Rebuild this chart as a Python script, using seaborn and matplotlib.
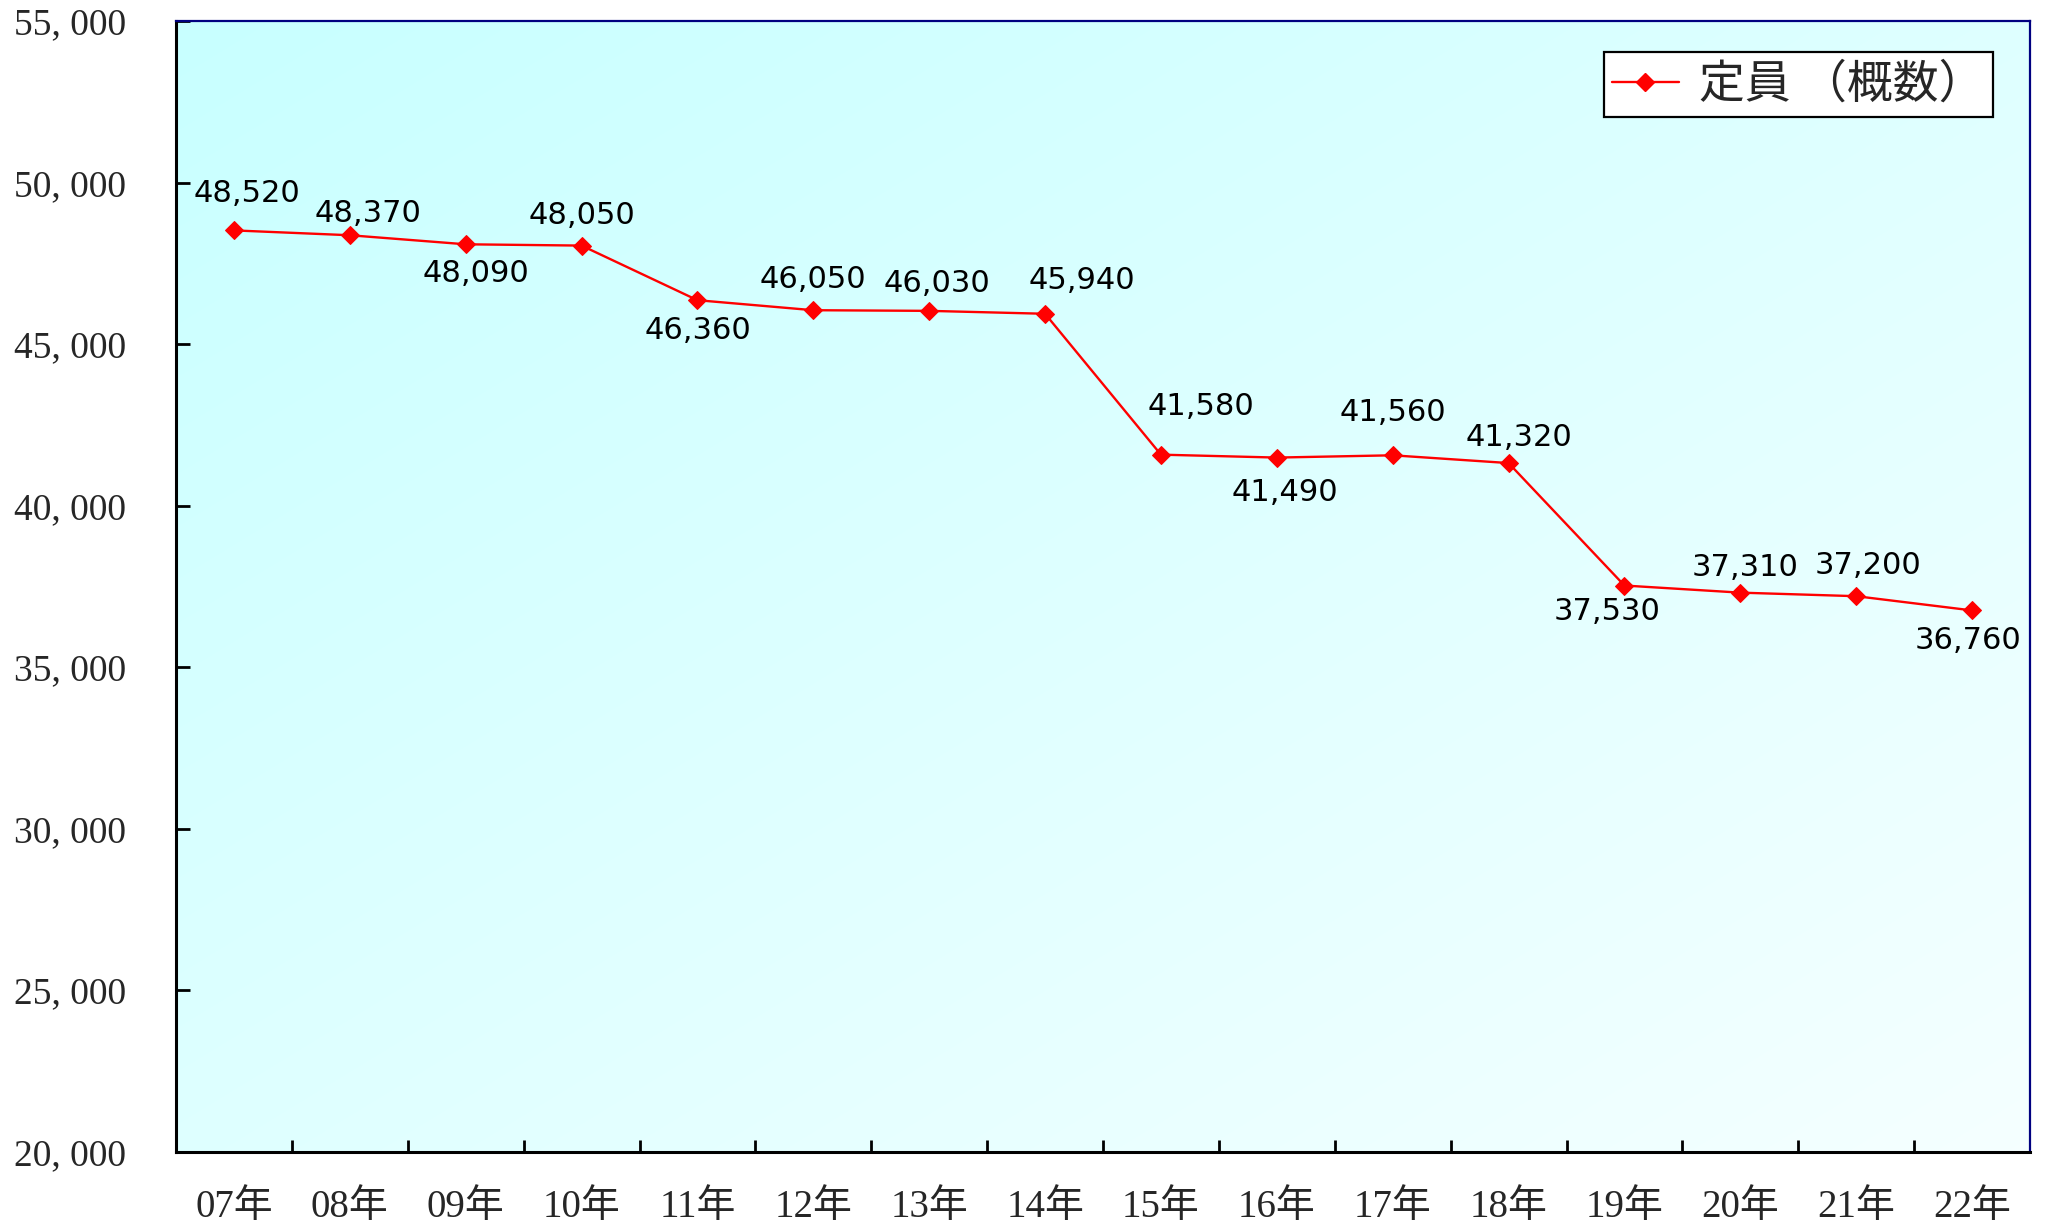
import numpy as np
import pandas as pd
import matplotlib
matplotlib.use("Agg")
import matplotlib.pyplot as plt
import seaborn as sns
from matplotlib.colors import LinearSegmentedColormap
from matplotlib.lines import Line2D

# Fiscal years and staff capacity (approximate)
years = ["07年", "08年", "09年", "10年", "11年", "12年", "13年", "14年",
         "15年", "16年", "17年", "18年", "19年", "20年", "21年", "22年"]
capacity = [48520, 48370, 48090, 48050, 46360, 46050, 46030, 45940,
            41580, 41490, 41560, 41320, 37530, 37310, 37200, 36760]
series_name = "定員 （概数）"
y_ticks = [20000, 25000, 30000, 35000, 40000, 45000, 50000, 55000]

# Label offsets (pixels) relative to each marker
label_dx = [13, 18, 10, 0, 0, 0, 8, 37, 40, 8, 0, 10, -17, 5, 12, -4]
label_dy = [37, 22, -29, 30, -30, 31, 27, 33, 48, -35, 43, 26, -26, 25, 31, -30]

sns.set_theme(style="white")
plt.rcParams["font.family"] = ["DejaVu Sans", "Noto Sans CJK JP"]

df = pd.DataFrame({"year": years, "capacity": capacity})

fig = plt.figure(figsize=(20.49, 12.26), dpi=100)
fig.patch.set_facecolor("white")
ax = fig.add_axes([176 / 2049, 1 - 1152 / 1226, (2030 - 176) / 2049, (1152 - 21) / 1226])

# Diagonal pale-cyan gradient fill, darkest at the top-left corner
cmap = LinearSegmentedColormap.from_list("bg", ["#c8ffff", "#f5ffff"])
gy, gx = np.mgrid[0:1:200j, 0:1:200j]
grad = (gx + gy) / 2
ax.imshow(grad, cmap=cmap, extent=[0, 1, 0, 1], transform=ax.transAxes,
          aspect="auto", origin="upper", zorder=0, interpolation="bilinear")

sns.lineplot(data=df, x="year", y="capacity", ax=ax, color="#ff0000",
             linewidth=1.7, marker="D", markersize=9, markeredgecolor="#ff0000",
             sort=False, zorder=3)

for i, (v, dx, dy) in enumerate(zip(capacity, label_dx, label_dy)):
    ax.annotate(f"{v:,}", xy=(i, v), xytext=(dx, dy), textcoords="offset pixels",
                ha="center", va="center", fontsize=22, color="black",
                family=["DejaVu Sans"], zorder=4)

ax.set_xlim(-0.5, len(years) - 0.5)
ax.set_ylim(20000, 55000)
ax.set_xlabel("")
ax.set_ylabel("")

tick_font = ["Liberation Serif", "Noto Sans CJK JP"]
ax.set_yticks(y_ticks)
ax.set_yticklabels([f"{v:,}".replace(",", ", ") for v in y_ticks],
                   family=tick_font, fontsize=27)
ax.set_xticks(range(len(years)))
ax.set_xticklabels(years, family=tick_font, fontsize=28)
ax.set_xticks(np.arange(0.5, len(years) - 0.5, 1.0), minor=True)

ax.tick_params(axis="y", which="major", direction="in", length=10, width=2,
               color="black", pad=36, left=True)
ax.tick_params(axis="x", which="major", length=0, pad=27)
ax.tick_params(axis="x", which="minor", direction="in", length=9, width=2,
               color="black", bottom=True)

for side in ["left", "bottom"]:
    ax.spines[side].set_color("black")
    ax.spines[side].set_linewidth(2.2)
for side in ["top", "right"]:
    ax.spines[side].set_color("#000080")
    ax.spines[side].set_linewidth(1.6)
for s in ax.spines.values():
    s.set_zorder(5)

handle = Line2D([], [], color="#ff0000", linewidth=1.7, marker="D", markersize=9)
leg = ax.legend([handle], [series_name], loc="upper right",
                bbox_to_anchor=(0.980, 0.9726), borderaxespad=0,
                fancybox=False, shadow=False, frameon=True, framealpha=1,
                prop={"family": ["Noto Sans CJK JP"], "size": 33},
                handlelength=1.45, handletextpad=0.45, borderpad=0.18)
leg.get_frame().set_edgecolor("black")
leg.get_frame().set_linewidth(1.6)
leg.get_frame().set_facecolor("white")

fig.savefig("out.png", dpi=100)
